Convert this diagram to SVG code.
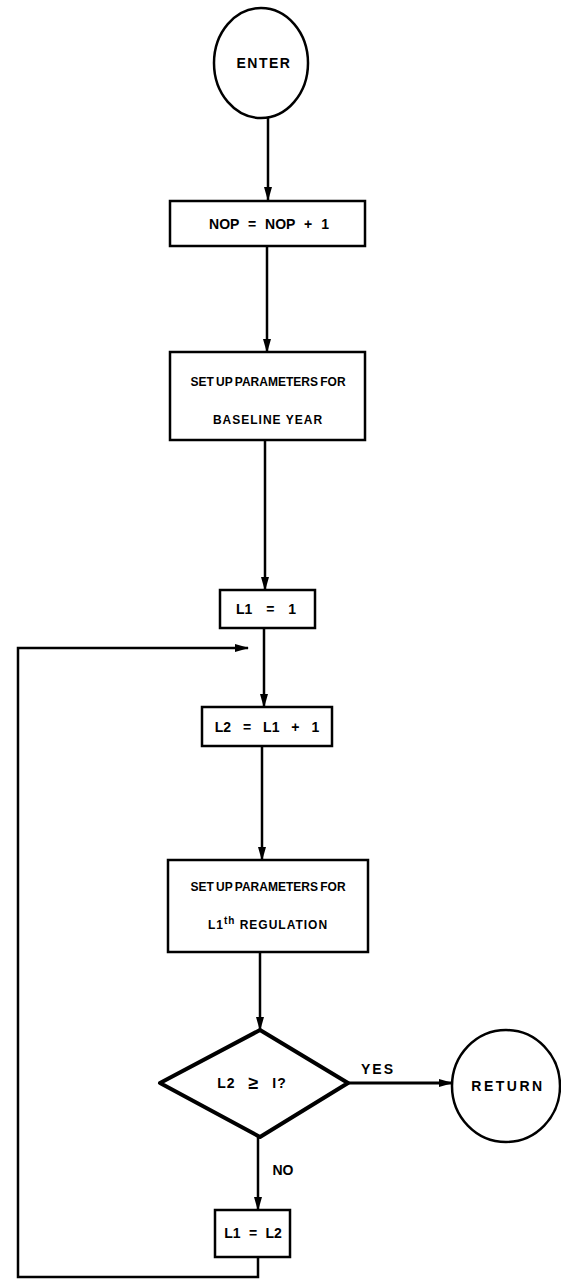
<svg xmlns="http://www.w3.org/2000/svg" width="561" height="1281" viewBox="0 0 561 1281">
<style>
.n{fill:#fff;stroke:#000;stroke-width:2.5}
.d{fill:#fff;stroke:#000;stroke-width:4;stroke-linejoin:round}
.c{fill:none;stroke:#000;stroke-width:2.5}
text{font-family:"Liberation Sans",Arial,sans-serif;font-weight:bold;font-size:14px;fill:#000;text-anchor:middle;dominant-baseline:central}
.s{font-size:12px}
</style>
<defs>
<marker id="ah" markerWidth="14" markerHeight="8" refX="13" refY="4" orient="auto" markerUnits="userSpaceOnUse">
<path d="M0,0 L14,4 L0,8 Z" fill="#000"/>
</marker>
</defs>
<rect width="561" height="1281" fill="#fff"/>
<g id="connectors">
<line class="c" x1="268" y1="118" x2="268" y2="200" marker-end="url(#ah)"/>
<line class="c" x1="267" y1="246" x2="267" y2="352" marker-end="url(#ah)"/>
<line class="c" x1="265" y1="440" x2="265" y2="590" marker-end="url(#ah)"/>
<line class="c" x1="264" y1="628" x2="264" y2="707" marker-end="url(#ah)"/>
<line class="c" x1="262" y1="746" x2="262" y2="860" marker-end="url(#ah)"/>
<line class="c" x1="260" y1="952" x2="260" y2="1030" marker-end="url(#ah)"/>
<line class="c" x1="348" y1="1083" x2="452" y2="1083" marker-end="url(#ah)" style="stroke-width:3"/>
<line class="c" x1="258" y1="1137" x2="258" y2="1210" marker-end="url(#ah)"/>
<polyline class="c" points="258,1257 258,1277 18,1277 18,648 248,648" marker-end="url(#ah)"/>
<text x="378" y="1069" letter-spacing="2">YES</text>
<text x="283" y="1170">NO</text>
</g>
<g id="enter">
<ellipse class="n" cx="261" cy="63" rx="47" ry="55"/>
<text x="264" y="63" letter-spacing="1.5">ENTER</text>
</g>
<g id="nop">
<rect class="n" x="170" y="201" width="195" height="45"/>
<text x="269" y="224" word-spacing="5">NOP = NOP + 1</text>
</g>
<g id="setup1">
<rect class="n" x="170" y="352" width="195" height="88"/>
<text class="s" x="268" y="382" word-spacing="-1">SET UP PARAMETERS FOR</text>
<text class="s" x="268" y="420" letter-spacing="1">BASELINE YEAR</text>
</g>
<g id="l1init">
<rect class="n" x="220" y="590" width="95" height="38"/>
<text x="266" y="609" word-spacing="10">L1 = 1</text>
</g>
<g id="l2calc">
<rect class="n" x="202" y="707" width="130" height="39"/>
<text x="267" y="727" word-spacing="8">L2 = L1 + 1</text>
</g>
<g id="setup2">
<rect class="n" x="168" y="860" width="200" height="92"/>
<text class="s" x="268" y="887" word-spacing="-1">SET UP PARAMETERS FOR</text>
<text class="s" x="268" y="925" letter-spacing="1">L1<tspan dy="-5" font-size="10">th</tspan><tspan dy="5"> REGULATION</tspan></text>
</g>
<g id="decision">
<polygon class="d" points="260,1030 348,1083 260,1137 160,1083"/>
<text x="252" y="1083" word-spacing="8" letter-spacing="1">L2 <tspan font-size="18">≥</tspan> I?</text>
</g>
<g id="return">
<ellipse class="n" cx="506" cy="1086" rx="54" ry="56"/>
<text x="508" y="1086" font-size="15" letter-spacing="2.5">RETURN</text>
</g>
<g id="l1update">
<rect class="n" x="215" y="1210" width="75" height="47"/>
<text x="253" y="1233" word-spacing="4.5">L1 = L2</text>
</g>
</svg>
